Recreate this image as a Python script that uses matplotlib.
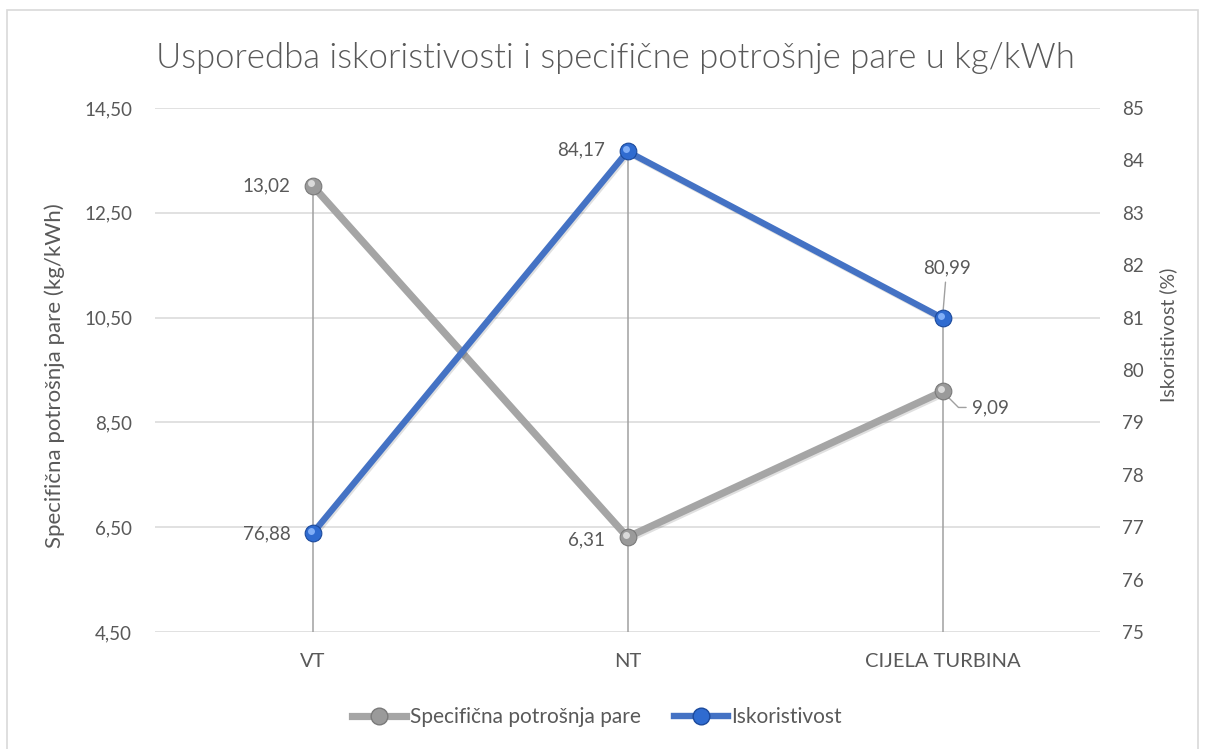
import matplotlib
matplotlib.use("Agg")
import matplotlib.pyplot as plt
import matplotlib.patheffects as pe
from matplotlib.patches import Rectangle
from matplotlib.lines import Line2D
from matplotlib.transforms import offset_copy

# --- data ---
categories = ["VT", "NT", "CIJELA TURBINA"]
steam_rate = [13.02, 6.31, 9.09]          # kg/kWh, left axis
efficiency = [76.88, 84.17, 80.99]        # %, right axis
steam_labels = ["13,02", "6,31", "9,09"]
eff_labels = ["76,88", "84,17", "80,99"]
left_ticks = [4.5, 6.5, 8.5, 10.5, 12.5, 14.5]
left_ticklabels = ["4,50", "6,50", "8,50", "10,50", "12,50", "14,50"]
right_ticks = list(range(75, 86))
series_names = ["Specifična potrošnja pare", "Iskoristivost"]

TXT = "#595959"
GRID = "#d9d9d9"
GREY = "#a5a5a5"
BLUE = "#4472c4"
FONT = "Lato"
FS = 13.5

plt.rcParams["font.family"] = [FONT, "DejaVu Sans"]

W, H = 1206, 749
fig = plt.figure(figsize=(W / 100, H / 100), dpi=100)
fig.patch.set_facecolor("white")

# chart frame
fig.patches.append(Rectangle((7 / W, -0.01), (1198 - 7) / W, 1 - 10 / H + 0.01,
                             transform=fig.transFigure, fill=False,
                             edgecolor=GRID, lw=1.2, zorder=0))

ax = fig.add_axes([155 / W, 1 - 632 / H, (1100 - 155) / W, (632 - 108) / H])
ax2 = ax.twinx()

x = list(range(len(categories)))
lmin, lmax = 4.5, 14.5
rmin, rmax = 75, 85
ax.set_xlim(-0.5, len(categories) - 0.5)
ax.set_ylim(lmin, lmax)
ax2.set_ylim(rmin, rmax)

for a in (ax, ax2):
    for s in a.spines.values():
        s.set_visible(False)
    a.patch.set_visible(False)

ax.set_yticks(left_ticks)
ax.set_yticklabels(left_ticklabels)
ax2.set_yticks(right_ticks)
ax.set_xticks(x)
ax.set_xticklabels(categories)
ax.tick_params(axis="y", length=0, pad=16.5, labelsize=FS, labelcolor=TXT)
ax2.tick_params(axis="y", length=0, pad=16, labelsize=FS, labelcolor=TXT)
ax.tick_params(axis="x", length=0, pad=15, labelsize=14.5, labelcolor=TXT)

# horizontal gridlines at the left-axis ticks
for t in left_ticks:
    ax.axhline(t, color=GRID, lw=1.1, zorder=0)


# drop lines from the highest point of each category to the floor
def to_left(v):
    return (v - rmin) / (rmax - rmin) * (lmax - lmin) + lmin


tops = [max(s, to_left(e)) for s, e in zip(steam_rate, efficiency)]
ax.vlines(x, lmin, tops, color="#a0a0a0", lw=1.1, zorder=1)

shadow = [pe.SimpleLineShadow(offset=(1.0, -1.2), shadow_color="#000000", alpha=0.12),
          pe.Normal()]


def sphere(axis, xs, ys, face, edge, hi, z):
    axis.plot(xs, ys, ls="none", marker="o", ms=12, mfc=face, mec=edge, mew=0.8,
              zorder=z)
    tr = offset_copy(axis.transData, fig=fig, x=-1.3, y=1.6, units="points")
    axis.plot(xs, ys, ls="none", marker="o", ms=5, mfc=hi, mec="none",
              alpha=0.85, zorder=z + 0.1, transform=tr)


ax.plot(x, steam_rate, color=GREY, lw=5.2, solid_capstyle="round",
        path_effects=shadow, zorder=3)
sphere(ax, x, steam_rate, "#9a9a9a", "#7a7a7a", "#e6e6e6", 4)

ax2.plot(x, efficiency, color=BLUE, lw=4.6, solid_capstyle="round",
         path_effects=shadow, zorder=3)
sphere(ax2, x, efficiency, "#2f6bd0", "#1c4a9c", "#8fbaff", 4)

lab_kw = dict(textcoords="offset points", fontsize=FS, color=TXT, va="center")

# data labels
ax.annotate(steam_labels[0], (x[0], steam_rate[0]), xytext=(-16, 0), ha="right", **lab_kw)
ax.annotate(steam_labels[1], (x[1], steam_rate[1]), xytext=(-16, -2), ha="right", **lab_kw)
ax.annotate(steam_labels[2], (x[2], steam_rate[2]), xytext=(21, -11.5), ha="left",
            arrowprops=dict(arrowstyle="-", color="#a0a0a0", lw=1.0,
                            connectionstyle="angle,angleA=180,angleB=-45,rad=0",
                            shrinkA=2, shrinkB=4),
            **lab_kw)
ax2.annotate(eff_labels[0], (x[0], efficiency[0]), xytext=(-16, 0), ha="right", **lab_kw)
ax2.annotate(eff_labels[1], (x[1], efficiency[1]), xytext=(-16, 1), ha="right", **lab_kw)
ax2.annotate(eff_labels[2], (x[2], efficiency[2]), xytext=(3, 36), ha="center",
             arrowprops=dict(arrowstyle="-", color="#a0a0a0", lw=1.0,
                             shrinkA=2, shrinkB=4),
             **lab_kw)

# axis titles
fig.text(55 / W, 1 - 376 / H, "Specifična potrošnja pare (kg/kWh)", rotation=90,
         ha="center", va="center", fontsize=16, color=TXT)
fig.text(1168 / W, 1 - 335 / H, "Iskoristivost (%)", rotation=90,
         ha="center", va="center", fontsize=14, color=TXT)

fig.text(615 / W, 1 - 58 / H,
         "Usporedba iskoristivosti i specifične potrošnje pare u kg/kWh",
         ha="center", va="center", fontsize=25, color=TXT, fontweight=300)

# legend
handles = [
    Line2D([], [], color=GREY, lw=5.2, marker="o", ms=12, mfc="#9a9a9a", mec="#7a7a7a"),
    Line2D([], [], color=BLUE, lw=4.6, marker="o", ms=12, mfc="#2f6bd0", mec="#1c4a9c"),
]
fig.legend(handles, series_names, loc="center", bbox_to_anchor=(597 / W, 1 - 717 / H),
           ncol=2, frameon=False, fontsize=15, labelcolor=TXT, handlelength=2.6,
           handletextpad=0.15, columnspacing=1.6)

fig.savefig("out.png", dpi=100)
